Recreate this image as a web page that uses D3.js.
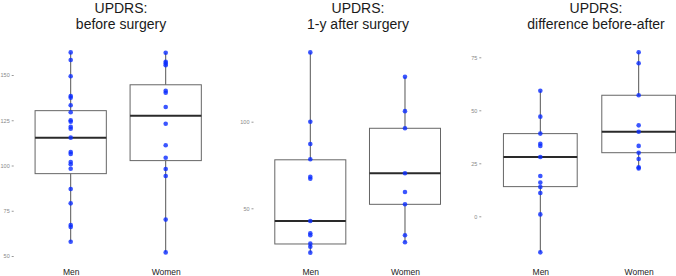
<!DOCTYPE html>
<html>
<head>
<meta charset="utf-8">
<script src="https://cdn.jsdelivr.net/npm/d3@7"></script>
<style>
  html, body { margin: 0; padding: 0; background: #fff; }
  svg { display: block; font-family: "Liberation Sans", Arial, sans-serif; }
</style>
</head>
<body>
<svg id="chart" width="676" height="276"></svg>
<script>
(function () {
  'use strict';

  // ── Data ──────────────────────────────────────────────────────────────────
  const groups = ['Men', 'Women'];

  // box stats: [whisker low, q1, median, q3, whisker high]
  const beforeMen = [162.5, 158.3, 149.3, 138.4, 137.5, 133.3, 129.4, 125, 124.2, 121.4, 120.3,
                     115.4, 107.5, 106.4, 101.9, 100.7, 98.2, 87, 79.1, 67.1, 66, 57.9];
  const beforeWomen = [162.3, 157.3, 156.4, 155.4, 141.3, 140.2, 132.3, 123.1, 111.2, 104.3,
                       98.1, 94.2, 70.1, 52];
  const beforeMenBox   = [57.9, 95.5, 115.4, 130.3, 162.5];
  const beforeWomenBox = [52, 102.7, 127.5, 144.6, 162.3];

  const afterMen   = [140, 100, 87.1, 78.3, 68.2, 67.1, 42.7, 35.6, 34.4, 29.6, 27.8, 24.4];
  const afterWomen = [125.9, 106.1, 96.2, 70.2, 59.4, 52.3, 34.4, 30.4];
  const afterMenBox   = [24.4, 29.4, 42.7, 78, 140];
  const afterWomenBox = [30.4, 52.3, 70.2, 96.2, 125.9];

  const diffMen   = [59.2, 47, 39, 34.2, 33.2, 28, 19, 15.9, 13.8, 11, 0.9, -17];
  const diffWomen = [77.4, 72.2, 57.1, 42.9, 39.9, 33.2, 30, 27, 23.1, 22.6];
  const diffMenBox   = [-17, 14, 28, 39, 59.2];
  const diffWomenBox = [22.6, 30, 39.9, 57.1, 77.4];

  const titles = ['before surgery', '1-y after surgery', 'difference before-after'];
  const beforeTicks = [50, 75, 100, 125, 150];
  const afterTicks  = [50, 100];
  const diffTicks   = [0, 25, 50, 75];

  // ── Layout per panel ──────────────────────────────────────────────────────
  const panels = [
    { title: titles[0], titleX: 121, x0: 13.7, x1: 222.7, dom: [50, 150], rng: [256, 75],
      ticks: beforeTicks, points: [beforeMen, beforeWomen], boxes: [beforeMenBox, beforeWomenBox] },
    { title: titles[1], titleX: 358, x0: 253.5, x1: 461.8, dom: [50, 100], rng: [208.3, 121.7],
      ticks: afterTicks, points: [afterMen, afterWomen], boxes: [afterMenBox, afterWomenBox] },
    { title: titles[2], titleX: 596, x0: 481.3, x1: 697.7, dom: [0, 75], rng: [216.3, 57.3],
      ticks: diffTicks, points: [diffMen, diffWomen], boxes: [diffMenBox, diffWomenBox] }
  ];

  const svg = d3.select('#chart');

  panels.forEach(p => {
    const x = d3.scalePoint().domain(groups).range([p.x0, p.x1]).padding(0.6);
    const y = d3.scaleLinear().domain(p.dom).range(p.rng);
    const boxW = x.step() * 0.75;
    const g = svg.append('g');

    // Titles
    g.append('text')
      .attr('x', p.titleX).attr('y', 12.5)
      .attr('text-anchor', 'middle')
      .attr('font-size', 14).attr('fill', '#1a1a1a')
      .text('UPDRS:');
    g.append('text')
      .attr('x', p.titleX).attr('y', 28.5)
      .attr('text-anchor', 'middle')
      .attr('font-size', 14).attr('fill', '#1a1a1a')
      .text(p.title);

    // Y axis (ticks only, no domain line)
    g.append('g')
      .attr('transform', `translate(${p.x0},0)`)
      .call(d3.axisLeft(y).tickValues(p.ticks).tickSize(2).tickPadding(2))
      .call(ax => ax.select('.domain').remove())
      .call(ax => ax.selectAll('.tick line').attr('stroke', '#999'))
      .call(ax => ax.selectAll('.tick text')
        .attr('fill', '#888').attr('font-size', 5.5)
        .attr('font-family', '"Liberation Sans", Arial, sans-serif'));

    // X axis labels
    g.append('g')
      .attr('transform', `translate(0,${268.5})`)
      .call(d3.axisBottom(x).tickSize(0).tickPadding(0))
      .call(ax => ax.select('.domain').remove())
      .call(ax => ax.selectAll('.tick text')
        .attr('fill', '#222').attr('font-size', 8.5)
        .attr('font-family', '"Liberation Sans", Arial, sans-serif'));

    // Boxes
    groups.forEach((grp, i) => {
      const b = p.boxes[i];
      const cx = x(grp);
      g.append('line')
        .attr('x1', cx).attr('x2', cx)
        .attr('y1', y(b[0])).attr('y2', y(b[1]))
        .attr('stroke', '#555').attr('stroke-width', 1);
      g.append('line')
        .attr('x1', cx).attr('x2', cx)
        .attr('y1', y(b[3])).attr('y2', y(b[4]))
        .attr('stroke', '#555').attr('stroke-width', 1);
      g.append('rect')
        .attr('x', cx - boxW / 2).attr('width', boxW)
        .attr('y', y(b[3])).attr('height', y(b[1]) - y(b[3]))
        .attr('fill', 'none').attr('stroke', '#666').attr('stroke-width', 1);
      g.append('line')
        .attr('x1', cx - boxW / 2).attr('x2', cx + boxW / 2)
        .attr('y1', y(b[2])).attr('y2', y(b[2]))
        .attr('stroke', '#2a2a2a').attr('stroke-width', 2);

      // Points
      g.selectAll(null)
        .data(p.points[i])
        .enter()
        .append('circle')
        .attr('cx', cx)
        .attr('cy', v => y(v))
        .attr('r', 2.3)
        .attr('fill', '#0a2cff')
        .attr('opacity', 0.8);
    });
  });
})();
</script>
</body>
</html>
